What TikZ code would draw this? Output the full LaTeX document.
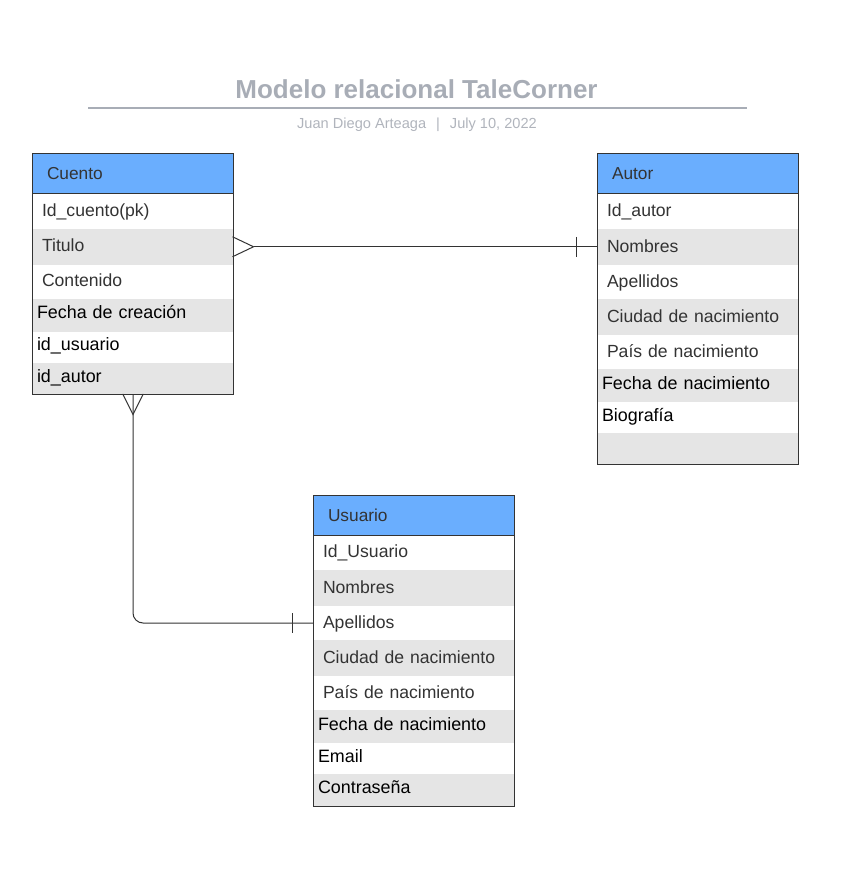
\documentclass[tikz,border=0pt]{standalone}
\usepackage{fontspec}
\setmainfont{Liberation Sans}
\definecolor{hdrblue}{HTML}{6AAEFE}
\definecolor{rowgray}{HTML}{E5E5E5}
\definecolor{edgec}{HTML}{333333}
\definecolor{ttlc}{HTML}{A8ADB6}
\definecolor{subc}{HTML}{B0B4BC}
\begin{document}
\begin{tikzpicture}[x=1pt,y=-1pt,
  cellbase/.style={anchor=north west, minimum width=200pt, inner ysep=0pt, outer sep=0pt, align=left},
  hdrcell/.style={cellbase, fill=hdrblue, minimum height=40pt, text width=171pt, inner xsep=14.5pt,
    text height=12pt, text depth=1pt, font=\fontsize{17.3}{20}\selectfont, text=edgec},
  darkrow/.style={cellbase, text width=181pt, inner xsep=9.5pt,
    text height=12pt, text depth=2pt, font=\fontsize{17.6}{20}\selectfont, text=edgec},
  blackrow/.style={cellbase, text width=192pt, inner xsep=4.5pt,
    text height=12.4pt, text depth=5pt, font=\fontsize{17.9}{20}\selectfont, text=black},
  shaded/.style={fill=rowgray},
  frame/.style={draw=edgec, line width=1pt},
  conn/.style={draw=edgec, line width=1pt},
  titletext/.style={anchor=base, text=ttlc, font=\bfseries\fontsize{26}{30}\selectfont, inner sep=0pt},
  subtext/.style={anchor=base, text=subc, font=\fontsize{14.6}{17}\selectfont, inner sep=0pt}
]
\useasboundingbox (0,0) rectangle (843,876);

% Title
\node[titletext] (title) at (416.5,98) {Modelo relacional TaleCorner};
\draw[ttlc, line width=2pt] (88,107.5) -- (747,107.5);
\node[subtext] (subtitle) at (417,128) {Juan Diego Arteaga\hspace{10pt}|\hspace{10pt}July 10, 2022};

% Cuento
\node[hdrcell] (cH) at (32.5,153.5) {Cuento};
\node[darkrow, minimum height=35.5pt] (c1) at (32.5,193.5) {Id\_cuento(pk)};
\node[darkrow, shaded, minimum height=35.5pt] (c2) at (32.5,229) {Titulo};
\node[darkrow, minimum height=34.5pt] (c3) at (32.5,264.5) {Contenido};
\node[blackrow, shaded, minimum height=32.5pt] (c4) at (32.5,299) {Fecha de creación};
\node[blackrow, minimum height=31.5pt] (c5) at (32.5,331.5) {id\_usuario};
\node[blackrow, shaded, minimum height=31pt] (c6) at (32.5,363) {id\_autor};
\draw[frame] (cH.north west) rectangle (c6.south east);
\draw[frame] (cH.south west) -- (cH.south east);

% Autor
\node[hdrcell] (aH) at (597.5,153.5) {Autor};
\node[darkrow, minimum height=35.8pt] (a1) at (597.5,193.5) {Id\_autor};
\node[darkrow, shaded, minimum height=35.7pt] (a2) at (597.5,229.3) {Nombres};
\node[darkrow, minimum height=34.3pt] (a3) at (597.5,265) {Apellidos};
\node[darkrow, shaded, minimum height=35.7pt] (a4) at (597.5,299.3) {Ciudad de nacimiento};
\node[darkrow, minimum height=34.3pt] (a5) at (597.5,335) {País de nacimiento};
\node[blackrow, shaded, minimum height=32.7pt] (a6) at (597.5,369.3) {Fecha de nacimiento};
\node[blackrow, minimum height=30.7pt] (a7) at (597.5,402) {Biografía};
\node[blackrow, shaded, minimum height=31.3pt] (a8) at (597.5,432.7) {};
\draw[frame] (aH.north west) rectangle (a8.south east);
\draw[frame] (aH.south west) -- (aH.south east);

% Usuario
\node[hdrcell] (uH) at (313.5,495.5) {Usuario};
\node[darkrow, minimum height=34.5pt] (u1) at (313.5,535.5) {Id\_Usuario};
\node[darkrow, shaded, minimum height=36pt] (u2) at (313.5,570) {Nombres};
\node[darkrow, minimum height=34pt] (u3) at (313.5,606) {Apellidos};
\node[darkrow, shaded, minimum height=36pt] (u4) at (313.5,640) {Ciudad de nacimiento};
\node[darkrow, minimum height=34pt] (u5) at (313.5,676) {País de nacimiento};
\node[blackrow, shaded, minimum height=32.7pt] (u6) at (313.5,710) {Fecha de nacimiento};
\node[blackrow, minimum height=31.3pt] (u7) at (313.5,742.7) {Email};
\node[blackrow, shaded, minimum height=32pt] (u8) at (313.5,774) {Contraseña};
\draw[frame] (uH.north west) rectangle (u8.south east);
\draw[frame] (uH.south west) -- (uH.south east);

% Cuento -- Autor (many to one)
\coordinate (aEnd) at (c2.east -| a2.west);
\draw[conn, shorten <=21pt] (c2.east) -- (aEnd);
\draw[conn] (c2.east) ++(0,-10) -- ++(21,10) -- ++(-21,10);
\draw[conn] (aEnd) ++(-21,-10) -- ++(0,20);

% Cuento -- Usuario (many to one)
\draw[conn, rounded corners=10pt] (c6.south) |- (u3.west);
\draw[conn] (c6.south) ++(-10.3,0) -- ++(10.3,20.5) -- ++(10.3,-20.5);
\draw[conn] (u3.west) ++(-21,-10) -- ++(0,20);
\end{tikzpicture}
\end{document}
